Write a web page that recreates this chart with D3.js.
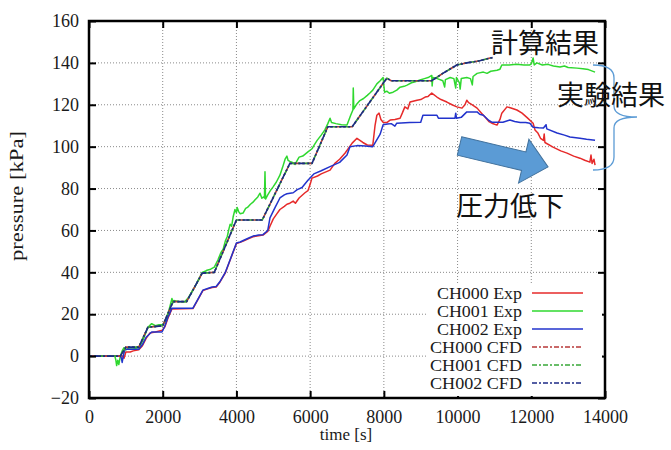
<!DOCTYPE html>
<html>
<head>
<meta charset="utf-8">
<script src="https://cdn.jsdelivr.net/npm/d3@7"></script>
<style>
  body { margin: 0; background: #fff; }
  svg { display: block; }
</style>
</head>
<body>
<svg id="chart" width="671" height="450"></svg>
<script>
// ---- axis ticks ----
const xTicks = [0, 2000, 4000, 6000, 8000, 10000, 12000, 14000];
const yTicks = [-20, 0, 20, 40, 60, 80, 100, 120, 140, 160];

// ---- measured pressure [time s, pressure kPa] ----
const ch000Exp = [[0,0],[900,0],[950,-1],[1000,2],[1120,2],[1200,2.5],[1350,3],[1450,5],[1550,8.5],[1650,11],[1800,11.5],[1990,12.4],[2060,14],[2150,18.5],[2250,22.5],[2820,22.7],[2950,26.8],[3090,31.3],[3200,32],[3340,32.8],[3450,33],[3550,35.3],[3700,39.8],[3850,46.8],[4000,53.8],[4100,54.3],[4200,55],[4350,56.2],[4450,57],[4600,57.5],[4720,57.8],[4850,59.5],[4910,62],[5000,65.5],[5100,68],[5180,70],[5300,71.5],[5370,72.5],[5450,73],[5540,74],[5600,73],[5700,75.5],[5860,78],[5940,79],[6000,82],[6050,85],[6200,86],[6300,87],[6540,88.8],[6670,92],[6800,94],[6950,97],[7140,101.7],[7270,104],[7350,103],[7430,102],[7550,100.8],[7700,100.7],[7760,110],[7810,115],[7870,116],[7920,113],[7980,111.7],[8080,111.5],[8170,112.7],[8300,113],[8440,113.6],[8500,116],[8570,119],[8650,118],[8710,121.3],[8900,122.2],[9000,122.5],[9120,123.7],[9200,124],[9300,125.6],[9440,123.7],[9550,122.5],[9710,121.3],[9850,120],[9980,119],[10120,118.4],[10200,120],[10250,122.2],[10300,121],[10400,120],[10530,118.4],[10650,116],[10750,114],[10850,112],[10930,111.2],[11070,110.3],[11150,113],[11200,116],[11340,119],[11450,118.5],[11610,117.5],[11750,116],[11880,114],[12050,111.2],[12100,108],[12180,106.5],[12250,104],[12330,103],[12350,106],[12370,102],[12590,99.8],[12800,98],[12970,96.9],[13150,95.5],[13320,94.5],[13450,93.5],[13590,92.6],[13620,96],[13650,92],[13700,94],[13730,91.2]];

const ch001Exp = [[0,0],[700,0],[730,-2],[750,-4.5],[780,-2],[810,-4],[850,0],[900,2.5],[950,4],[1000,3],[1100,4],[1250,3.8],[1350,4],[1450,7],[1550,11.5],[1600,13.8],[1700,15.5],[1800,14.5],[1900,15],[2000,15],[2100,17.5],[2200,24],[2250,27.5],[2280,25.5],[2300,26.5],[2450,26],[2600,26],[2700,28],[2800,31],[2900,34],[3000,37.5],[3070,40],[3150,40.5],[3200,41],[3300,41.5],[3400,42.5],[3500,46],[3580,49.5],[3640,51],[3700,55],[3750,57],[3800,61],[3830,63],[3870,62],[3910,66.4],[3960,70],[4000,68.5],[4020,71],[4060,69],[4100,68],[4180,68.3],[4250,70.5],[4300,71],[4380,72.5],[4450,73.5],[4500,74.5],[4580,76],[4640,77.8],[4690,75.4],[4740,76],[4760,75.5],[4775,88],[4790,75],[4850,77],[4920,79],[4990,80.7],[5080,83],[5180,86.4],[5250,90],[5320,94],[5370,95.5],[5400,93.5],[5450,93],[5520,92.5],[5590,91.5],[5650,93.5],[5700,95],[5800,95.5],[5940,97.5],[6050,99],[6100,100.5],[6190,103],[6300,105.5],[6400,108],[6480,111],[6540,113.6],[6580,111.5],[6700,111],[6850,110.5],[7000,110.3],[7100,115],[7160,117.5],[7170,128],[7185,118],[7250,120],[7350,122],[7450,123],[7550,124.5],[7620,125.6],[7700,127],[7810,130],[7900,131.5],[7980,133],[8000,129],[8020,126],[8080,126.5],[8150,125.5],[8250,126],[8350,127],[8440,128.4],[8550,128.8],[8630,129.4],[8750,130.5],[8850,131],[8980,131.8],[9100,132.5],[9200,133],[9300,134],[9310,129],[9330,133],[9450,132.5],[9600,131.5],[9650,128.5],[9670,132],[9800,133],[9900,132.5],[9950,128],[9970,133],[10050,130.5],[10070,127.5],[10100,132.5],[10250,133],[10350,132.5],[10400,129.5],[10420,133.5],[10530,135],[10700,135.6],[10800,135],[10900,136],[11070,136.5],[11150,137],[11200,139],[11400,139],[11600,139.3],[11800,139],[11960,139],[12000,139.5],[12050,142.3],[12080,139],[12150,140],[12300,139],[12450,139.3],[12600,138.5],[12780,138],[12900,138.5],[13000,137.8],[13240,137.5],[13400,137.2],[13550,136.8],[13730,135.6]];

const ch002Exp = [[0,0],[850,0],[880,-1],[900,-3],[940,1],[980,3.3],[1100,3.3],[1350,3.3],[1450,5.5],[1550,9],[1700,11.5],[1980,11.5],[2050,14],[2150,19],[2250,22.9],[2820,22.9],[2950,27],[3090,31.5],[3200,32.2],[3340,33],[3450,33.2],[3550,35.5],[3700,40],[3850,47],[4000,54],[4100,54.5],[4200,55.3],[4350,56.5],[4450,57.3],[4600,57.8],[4720,58],[4850,60],[4910,66],[5050,71],[5180,75.5],[5300,77],[5370,77.5],[5540,78],[5650,79.5],[5780,80.5],[5940,84],[6100,87],[6300,88.5],[6540,90.5],[6800,92.5],[7000,96],[7080,100],[7270,100.5],[7500,100.3],[7700,100],[7800,103],[7900,106],[7980,110.5],[8100,110.8],[8200,111],[8300,109.8],[8350,111.2],[8700,111.5],[9000,111.7],[9060,115],[9300,115],[9440,115],[9480,113.6],[9700,113.6],[9930,113.6],[9950,116],[9970,113.6],[10100,114],[10250,116.6],[10530,116.6],[10600,115.5],[10700,115],[10850,112.5],[10930,111.7],[11230,111.7],[11420,112.7],[11550,112],[11700,111.5],[11850,111.5],[11960,111.2],[12050,109.3],[12200,109],[12330,108.9],[12400,110.5],[12420,108.5],[12700,106.5],[12900,105.5],[13050,104.6],[13320,104],[13500,103.5],[13730,103.1]];

// ---- simulated pressure (CFD), common time base ----
const cfdTime    = [0, 850, 1000, 1350, 1600, 2000, 2280, 2650, 3070, 3400, 4000, 4700, 5450, 6050, 6480, 7140, 8080, 8200, 9300, 9600, 9980, 10250, 10600, 10880, 10950];
const ch000CfdP  = [0, 0, 4.3, 4.3, 13.8, 14.5, 26, 26, 39.6, 40, 65, 65, 92, 92, 109.5, 109.5, 132.7, 131.5, 131.5, 135, 139, 140, 141, 142.3, 142.5];
const ch001CfdP  = [0, 0, 4.3, 4.3, 13.8, 14.5, 26, 26, 39.6, 40, 65, 65, 92, 92, 109.5, 109.5, 132.7, 131.5, 131.5, 135, 139, 140, 141, 142.3, 142.5];
const ch002CfdP  = [0, 0, 4.3, 4.3, 13.8, 14.5, 26, 26, 39.6, 40, 65, 65, 92, 92, 109.5, 109.5, 132.7, 131.5, 131.5, 135, 139, 140, 141, 142.3, 142.5];

const legendLabels = ["CH000 Exp", "CH001 Exp", "CH002 Exp", "CH000 CFD", "CH001 CFD", "CH002 CFD"];

// ---- layout ----
const svg = d3.select("#chart");
const W = 671, H = 450;
const plot = { left: 89, right: 605, top: 21, bottom: 398 };

svg.append("rect").attr("width", W).attr("height", H).attr("fill", "#fff");

const x = d3.scaleLinear().domain([0, 14000]).range([plot.left, plot.right]);
const y = d3.scaleLinear().domain([-20, 160]).range([plot.bottom, plot.top]);

const serif = "'Liberation Serif', 'Times New Roman', serif";
const cjk = "'Noto Sans CJK JP', 'Noto Sans CJK SC', sans-serif";

// dotted grid
const grid = svg.append("g").attr("stroke", "#8a8a8a").attr("stroke-width", 1)
  .attr("stroke-dasharray", "1,2").attr("fill", "none");
grid.selectAll("line.gx").data(xTicks.slice(1, -1)).join("line")
  .attr("x1", d => x(d)).attr("x2", d => x(d))
  .attr("y1", plot.top).attr("y2", plot.bottom);
grid.selectAll("line.gy").data(yTicks.slice(1, -1)).join("line")
  .attr("x1", plot.left).attr("x2", plot.right)
  .attr("y1", d => y(d)).attr("y2", d => y(d));

// series
const line = d3.line().x(d => x(d[0])).y(d => y(d[1]));
const zipCfd = p => cfdTime.map((t, i) => [t, p[i]]);

const series = [
  { data: ch000Exp, color: "#e62a2a", dash: null, off: 0, w: 1.5 },
  { data: ch001Exp, color: "#2fd82f", dash: null, off: 0, w: 1.5 },
  { data: ch002Exp, color: "#2233cc", dash: null, off: 0, w: 1.5 },
  { data: zipCfd(ch000CfdP), color: "#b83838", dash: "7,2,2,2", off: 0, w: 1.6 },
  { data: zipCfd(ch001CfdP), color: "#38a838", dash: "7,2,2,2", off: 4, w: 1.6 },
  { data: zipCfd(ch002CfdP), color: "#1c2a86", dash: "7,2,2,2", off: 8, w: 1.6 }
];

const gLines = svg.append("g").attr("fill", "none");
series.forEach(s => {
  gLines.append("path").datum(s.data)
    .attr("d", line)
    .attr("stroke", s.color)
    .attr("stroke-width", s.w)
    .attr("stroke-linejoin", "round")
    .attr("stroke-dasharray", s.dash)
    .attr("stroke-dashoffset", s.off);
});

// axes: ticks point inward on all four sides
const tickLen = 7;
const fmt = d3.format("d");
const axB = svg.append("g").attr("transform", `translate(0,${plot.bottom})`)
  .call(d3.axisBottom(x).tickValues(xTicks).tickFormat(fmt).tickSizeInner(-tickLen).tickSizeOuter(0).tickPadding(12));
const axL = svg.append("g").attr("transform", `translate(${plot.left},0)`)
  .call(d3.axisLeft(y).tickValues(yTicks).tickFormat(fmt).tickSizeInner(-tickLen).tickSizeOuter(0).tickPadding(10));
const axT = svg.append("g").attr("transform", `translate(0,${plot.top})`)
  .call(d3.axisTop(x).tickValues(xTicks).tickSizeInner(-tickLen).tickSizeOuter(0).tickFormat(""));
const axR = svg.append("g").attr("transform", `translate(${plot.right},0)`)
  .call(d3.axisRight(y).tickValues(yTicks).tickSizeInner(-tickLen).tickSizeOuter(0).tickFormat(""));
[axB, axL, axT, axR].forEach(a => {
  a.select(".domain").remove();
  a.selectAll(".tick line").attr("stroke", "#000").attr("stroke-width", 2);
  a.selectAll(".tick text").attr("font-family", serif).attr("font-size", 18).attr("fill", "#1a1a1a");
});

// legend (opaque box)
const leg = svg.append("g");
leg.append("rect").attr("x", 426).attr("y", 283).attr("width", 176).attr("height", 113).attr("fill", "#fff");
legendLabels.forEach((lab, i) => {
  const cy = 293 + i * 18;
  leg.append("text").attr("x", 522).attr("y", cy + 6)
    .attr("text-anchor", "end").attr("font-family", serif).attr("font-size", 16.5)
    .attr("textLength", lab.endsWith("CFD") ? 92 : 85).attr("lengthAdjust", "spacingAndGlyphs")
    .attr("fill", "#1a1a1a").text(lab);
  const s = series[i];
  leg.append("line").attr("x1", 532).attr("x2", 583).attr("y1", cy).attr("y2", cy)
    .attr("stroke", s.color).attr("stroke-width", s.w)
    .attr("stroke-dasharray", s.dash ? "5,2,2,2" : null);
});

// frame
svg.append("rect")
  .attr("x", plot.left).attr("y", plot.top)
  .attr("width", plot.right - plot.left).attr("height", plot.bottom - plot.top)
  .attr("fill", "none").attr("stroke", "#000").attr("stroke-width", 2.5);

// axis titles
svg.append("text").attr("x", 346).attr("y", 440).attr("text-anchor", "middle")
  .attr("font-family", serif).attr("font-size", 17).attr("fill", "#1a1a1a").text("time [s]");
svg.append("text").attr("transform", "translate(23,196) rotate(-90)")
  .attr("text-anchor", "middle").attr("font-family", serif).attr("font-size", 18)
  .attr("textLength", 130).attr("lengthAdjust", "spacingAndGlyphs")
  .attr("fill", "#1a1a1a").text("pressure [kPa]");

// pressure-drop arrow
const arrowLen = 91, shaftHalf = 9.5, headHalf = 22.5, headLen = 25;
const arrowPts = [[0, -shaftHalf], [arrowLen - headLen, -shaftHalf], [arrowLen - headLen, -headHalf],
  [arrowLen, 0], [arrowLen - headLen, headHalf], [arrowLen - headLen, shaftHalf], [0, shaftHalf]];
svg.append("polygon")
  .attr("points", arrowPts.map(p => p.join(",")).join(" "))
  .attr("transform", "translate(459.5,146) rotate(13.3)")
  .attr("fill", "#5b9bd5").attr("stroke", "#41719c").attr("stroke-width", 1);

// curly brace grouping the measured curves
svg.append("path")
  .attr("d", "M593,65 Q614,65 614,78 L614,106 Q614,117 637,117 Q614,117 614,128 L614,157 Q614,170 593,170")
  .attr("fill", "none").attr("stroke", "#5b9bd5").attr("stroke-width", 1.3);

// annotations
const notes = [
  { text: "計算結果", x: 491, y: 53 },
  { text: "実験結果", x: 557, y: 105 },
  { text: "圧力低下", x: 456, y: 216 }
];
svg.selectAll("text.note").data(notes).join("text")
  .attr("class", "note")
  .attr("x", d => d.x).attr("y", d => d.y)
  .attr("font-family", cjk).attr("font-size", 27).attr("fill", "#111")
  .text(d => d.text);
</script>
</body>
</html>
